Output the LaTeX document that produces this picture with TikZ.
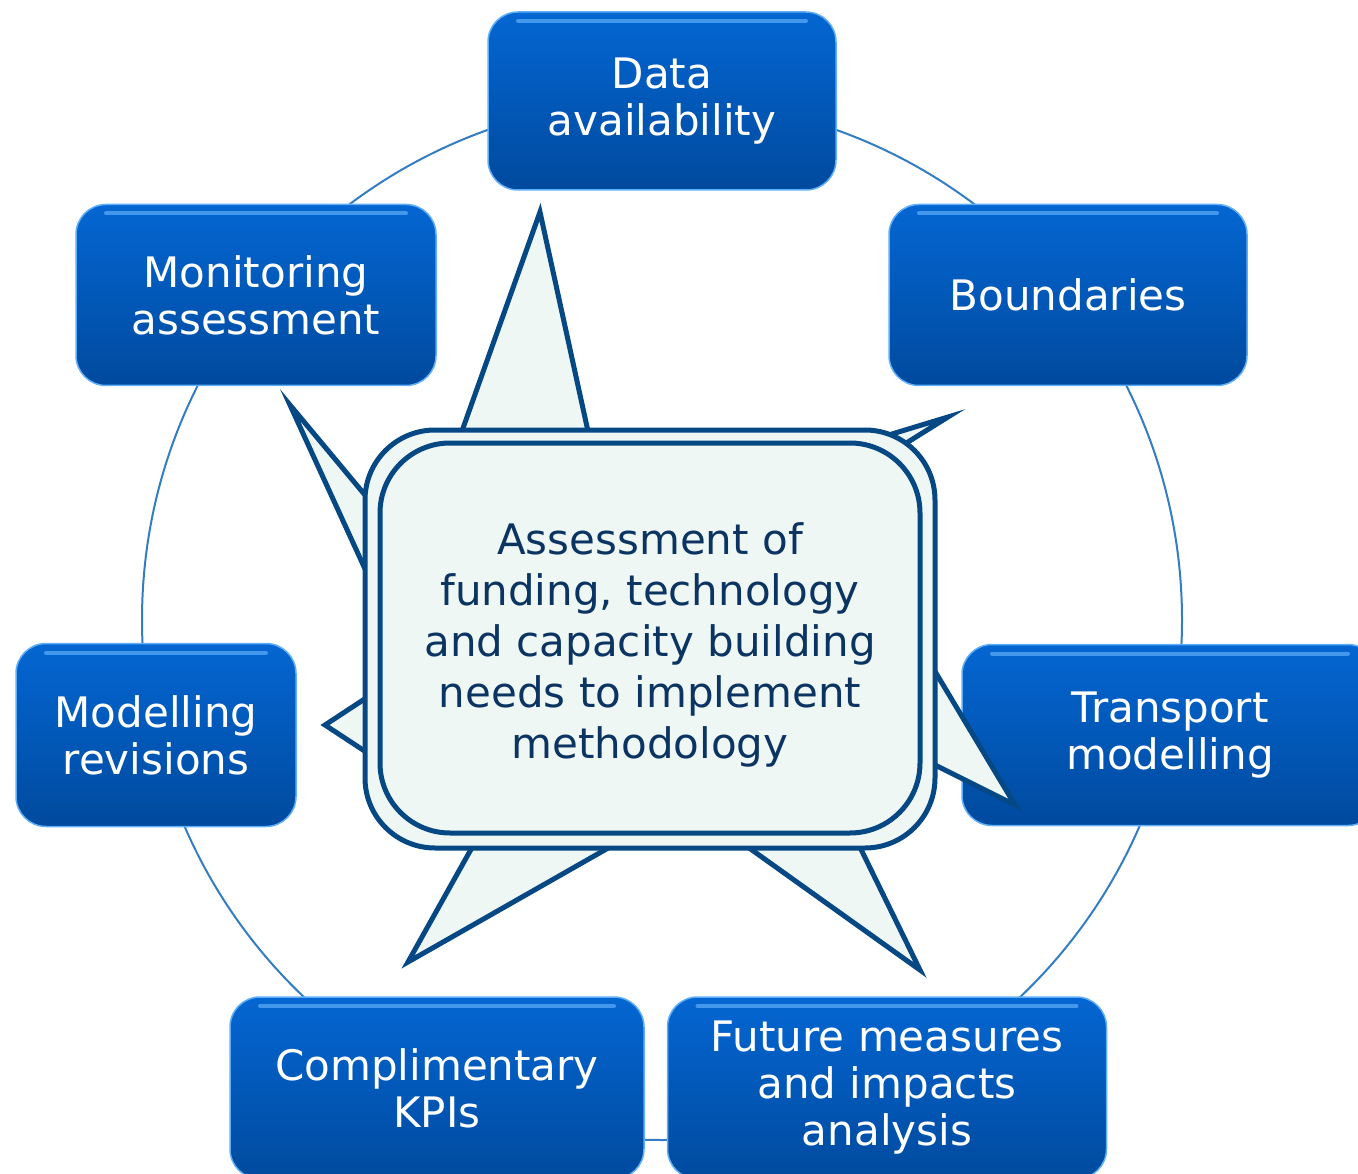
\documentclass[tikz,border=0pt]{standalone}
\usepackage{fontspec}
\setmainfont{DejaVu Sans}
\definecolor{boxtop}{RGB}{4,102,210}
\definecolor{boxbot}{RGB}{0,74,158}
\definecolor{rim}{RGB}{95,175,248}
\definecolor{ring}{RGB}{50,125,195}
\definecolor{callfill}{RGB}{238,247,244}
\definecolor{callline}{RGB}{6,72,132}
\definecolor{calltext}{RGB}{12,52,98}

\begin{document}
\begin{tikzpicture}[x=1pt,y=-1pt,
  stage/.style={rounded corners=30pt, top color=boxtop, bottom color=boxbot,
    draw=rim, line width=1.5pt, text=white, align=center, inner sep=0pt,
    font=\fontsize{42}{47}\selectfont,
    path picture={\draw[rim, line width=4pt, line cap=round, opacity=.7]
      ([xshift=30pt,yshift=-9pt]path picture bounding box.north west) --
      ([xshift=-30pt,yshift=-9pt]path picture bounding box.north east);}},
  spike/.style={fill=callfill, draw=callline, line width=5pt, line join=miter},
  bubble/.style={fill=callfill, draw=callline, line width=5pt, rounded corners=70pt}]
  \useasboundingbox (0,0) rectangle (1358,1174);

  % ring behind the stages
  \draw[ring, line width=2pt] (662,620) circle[radius=520];

  % stages round the ring
  \node[stage, minimum width=348pt, minimum height=178pt] (data) at (662,101) {Data\\availability};
  \node[stage, minimum width=358pt, minimum height=181pt] (bound) at (1068,295) {Boundaries};
  \node[stage, minimum width=416pt, minimum height=181pt] (transport) at (1170,735) {Transport\\modelling};
  \node[stage, minimum width=439pt, minimum height=182pt] (future) at (887,1088) {Future measures\\and impacts\\analysis};
  \node[stage, minimum width=414pt, minimum height=182pt] (kpi) at (437,1088) {Complimentary\\KPIs};
  \node[stage, minimum width=280pt, minimum height=183pt] (revision) at (156,735) {Modelling\\revisions};
  \node[stage, minimum width=360pt, minimum height=181pt] (monitor) at (256,295) {Monitoring\\assessment};

  % callout spikes
  \filldraw[spike] (457,445) -- (540,212) -- (591,445);
  \filldraw[spike] (826,454) -- (948,417) -- (860,472);
  \filldraw[spike] (400,537) -- (290,405) -- (387,617);
  \filldraw[spike] (395,679) -- (325,725) -- (395,771);
  \filldraw[spike] (915,638) -- (1015,805) -- (915,755);
  \filldraw[spike] (479,835) -- (408,962) -- (631,835);
  \filldraw[spike] (731,835) -- (920,970) -- (854,835);

  % callout body
  \draw[bubble] (365,430) rectangle (935,848);
  \draw[bubble] (380,443) rectangle (920,833);
  \node[text=calltext, align=center, font=\fontsize{42}{51}\selectfont] (needs) at (650,645)
    {Assessment of\\funding, technology\\and capacity building\\needs to implement\\methodology};
\end{tikzpicture}
\end{document}
